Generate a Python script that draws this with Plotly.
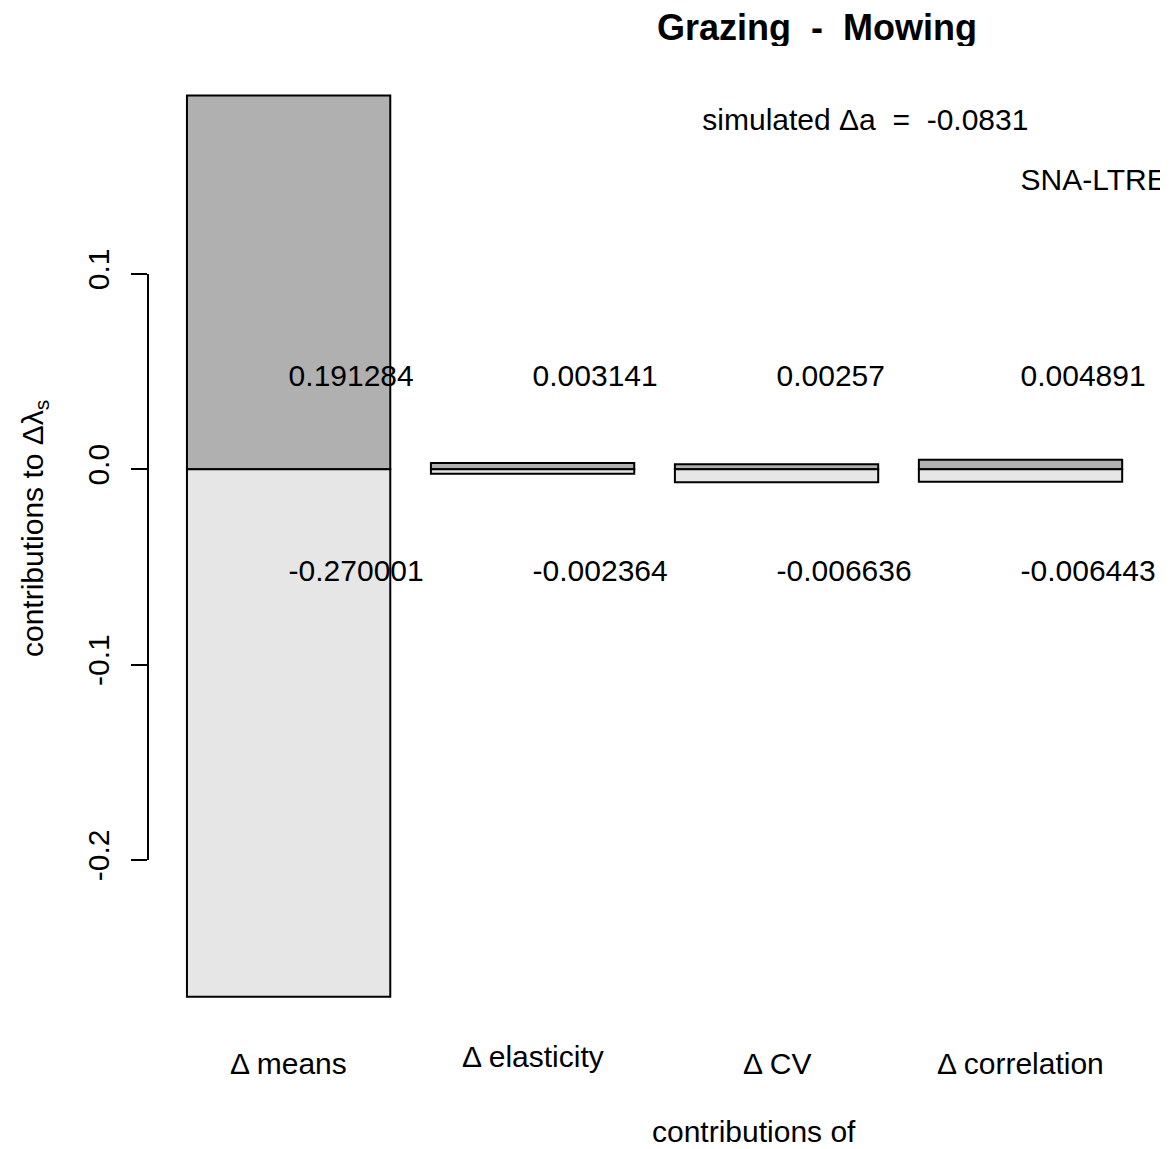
import plotly.graph_objects as go

# ---- data ----
categories = ["Δ means", "Δ elasticity", "Δ CV", "Δ correlation"]
positive_contrib = [0.191284, 0.003141, 0.00257, 0.004891]
negative_contrib = [-0.270001, -0.002364, -0.006636, -0.006443]
y_tick_vals = [-0.2, -0.1, 0.0, 0.1]
y_tick_text = ["-0.2", "-0.1", "0.0", "0.1"]
title_text = "Grazing\u00a0 -\u00a0 Mowing"
simulated_text = "simulated Δa\u00a0 =\u00a0 -0.0831"
method_text = "SNA-LTRE"

# ---- layout constants (R barplot geometry: width 1, space 0.2) ----
bar_x = [0.2 + 0.5 + i * 1.2 for i in range(len(categories))]
FONT = "Liberation Sans, Arial, Helvetica, sans-serif"
FS = 30
OFF = 8  # page body margin
W, H = 1173, 1149
# plot area in page pixels: x 148..1160, y 59..1033
PL, PR, PT, PB = 148, 1160, 59, 1033
ML, MT = PL - OFF, PT - OFF
MR = W - (PR - OFF)
MB = H - (PB - OFF)
label_nudge = [0, 7, 0, 0]  # px upward per category label
LW = 2.0

fig = go.Figure()
fig.add_trace(go.Bar(x=bar_x, y=positive_contrib, width=1.0,
                     marker=dict(color="#B0B0B0", line=dict(color="black", width=LW)),
                     hoverinfo="skip", showlegend=False))
fig.add_trace(go.Bar(x=bar_x, y=negative_contrib, width=1.0,
                     marker=dict(color="#E6E6E6", line=dict(color="black", width=LW)),
                     hoverinfo="skip", showlegend=False))

# value labels (left-aligned at bar centre)
fig.add_trace(go.Scatter(x=bar_x, y=[0.0462] * 4, mode="text",
                         text=[str(v) for v in positive_contrib],
                         textposition="middle right",
                         textfont=dict(family=FONT, size=FS, color="black"),
                         hoverinfo="skip", showlegend=False))
fig.add_trace(go.Scatter(x=bar_x, y=[-0.0535] * 4, mode="text",
                         text=[str(v) for v in negative_contrib],
                         textposition="middle right",
                         textfont=dict(family=FONT, size=FS, color="black"),
                         hoverinfo="skip", showlegend=False))
fig.add_trace(go.Scatter(x=[2.735, 4.3], y=[0.1775, 0.147], mode="text",
                         text=[simulated_text, method_text],
                         textposition="middle right",
                         textfont=dict(family=FONT, size=FS, color="black"),
                         hoverinfo="skip", showlegend=False))

fig.update_layout(
    width=W, height=H,
    margin=dict(l=ML, r=MR, t=MT, b=MB),
    paper_bgcolor="white", plot_bgcolor="white",
    barmode="relative",
    font=dict(family=FONT, size=FS, color="black"),
    xaxis=dict(range=[0.0084, 4.986], showgrid=False, zeroline=False,
               showline=False, showticklabels=False, ticks=""),
    yaxis=dict(range=[-0.2886, 0.2100], showgrid=False, zeroline=False,
               showline=False, tickmode="array", tickvals=y_tick_vals,
               ticktext=y_tick_text, ticks="outside", ticklen=16,
               tickwidth=LW, tickcolor="black", tickangle=-90,
               ticklabelstandoff=10,
               tickfont=dict(family=FONT, size=FS, color="black")),
)

# y axis line only between extreme ticks (R style)
fig.add_shape(type="line", xref="paper", yref="y", x0=0, x1=0,
              y0=min(y_tick_vals), y1=max(y_tick_vals),
              line=dict(color="black", width=LW))

def px_to_paper_y(py):
    return 1 - (py - PT) / (PB - PT)

def px_to_paper_x(px):
    return (px - PL) / (PR - PL)

# category labels
for xc, lab, nud in zip(bar_x, categories, label_nudge):
    fig.add_annotation(x=xc, xref="x", y=px_to_paper_y(1063), yref="paper",
                       text=lab, showarrow=False, yshift=nud,
                       xanchor="center", yanchor="middle",
                       font=dict(family=FONT, size=FS, color="black"))

fig.add_annotation(x=px_to_paper_x(817), y=px_to_paper_y(27), xref="paper", yref="paper",
                   text="<b>" + title_text + "</b>", showarrow=False,
                   xanchor="center", yanchor="middle", height=38,
                   font=dict(family=FONT, size=36, color="black"))
fig.add_annotation(x=px_to_paper_x(754), y=px_to_paper_y(1131), xref="paper", yref="paper",
                   text="contributions of", showarrow=False,
                   xanchor="center", yanchor="middle",
                   font=dict(family=FONT, size=FS, color="black"))
fig.add_annotation(x=px_to_paper_x(34), y=px_to_paper_y(529), xref="paper", yref="paper",
                   text="contributions to Δλ<sub>s</sub>", showarrow=False,
                   textangle=-90, xanchor="center", yanchor="middle",
                   font=dict(family=FONT, size=FS, color="black"))

fig.write_html("out.html")
